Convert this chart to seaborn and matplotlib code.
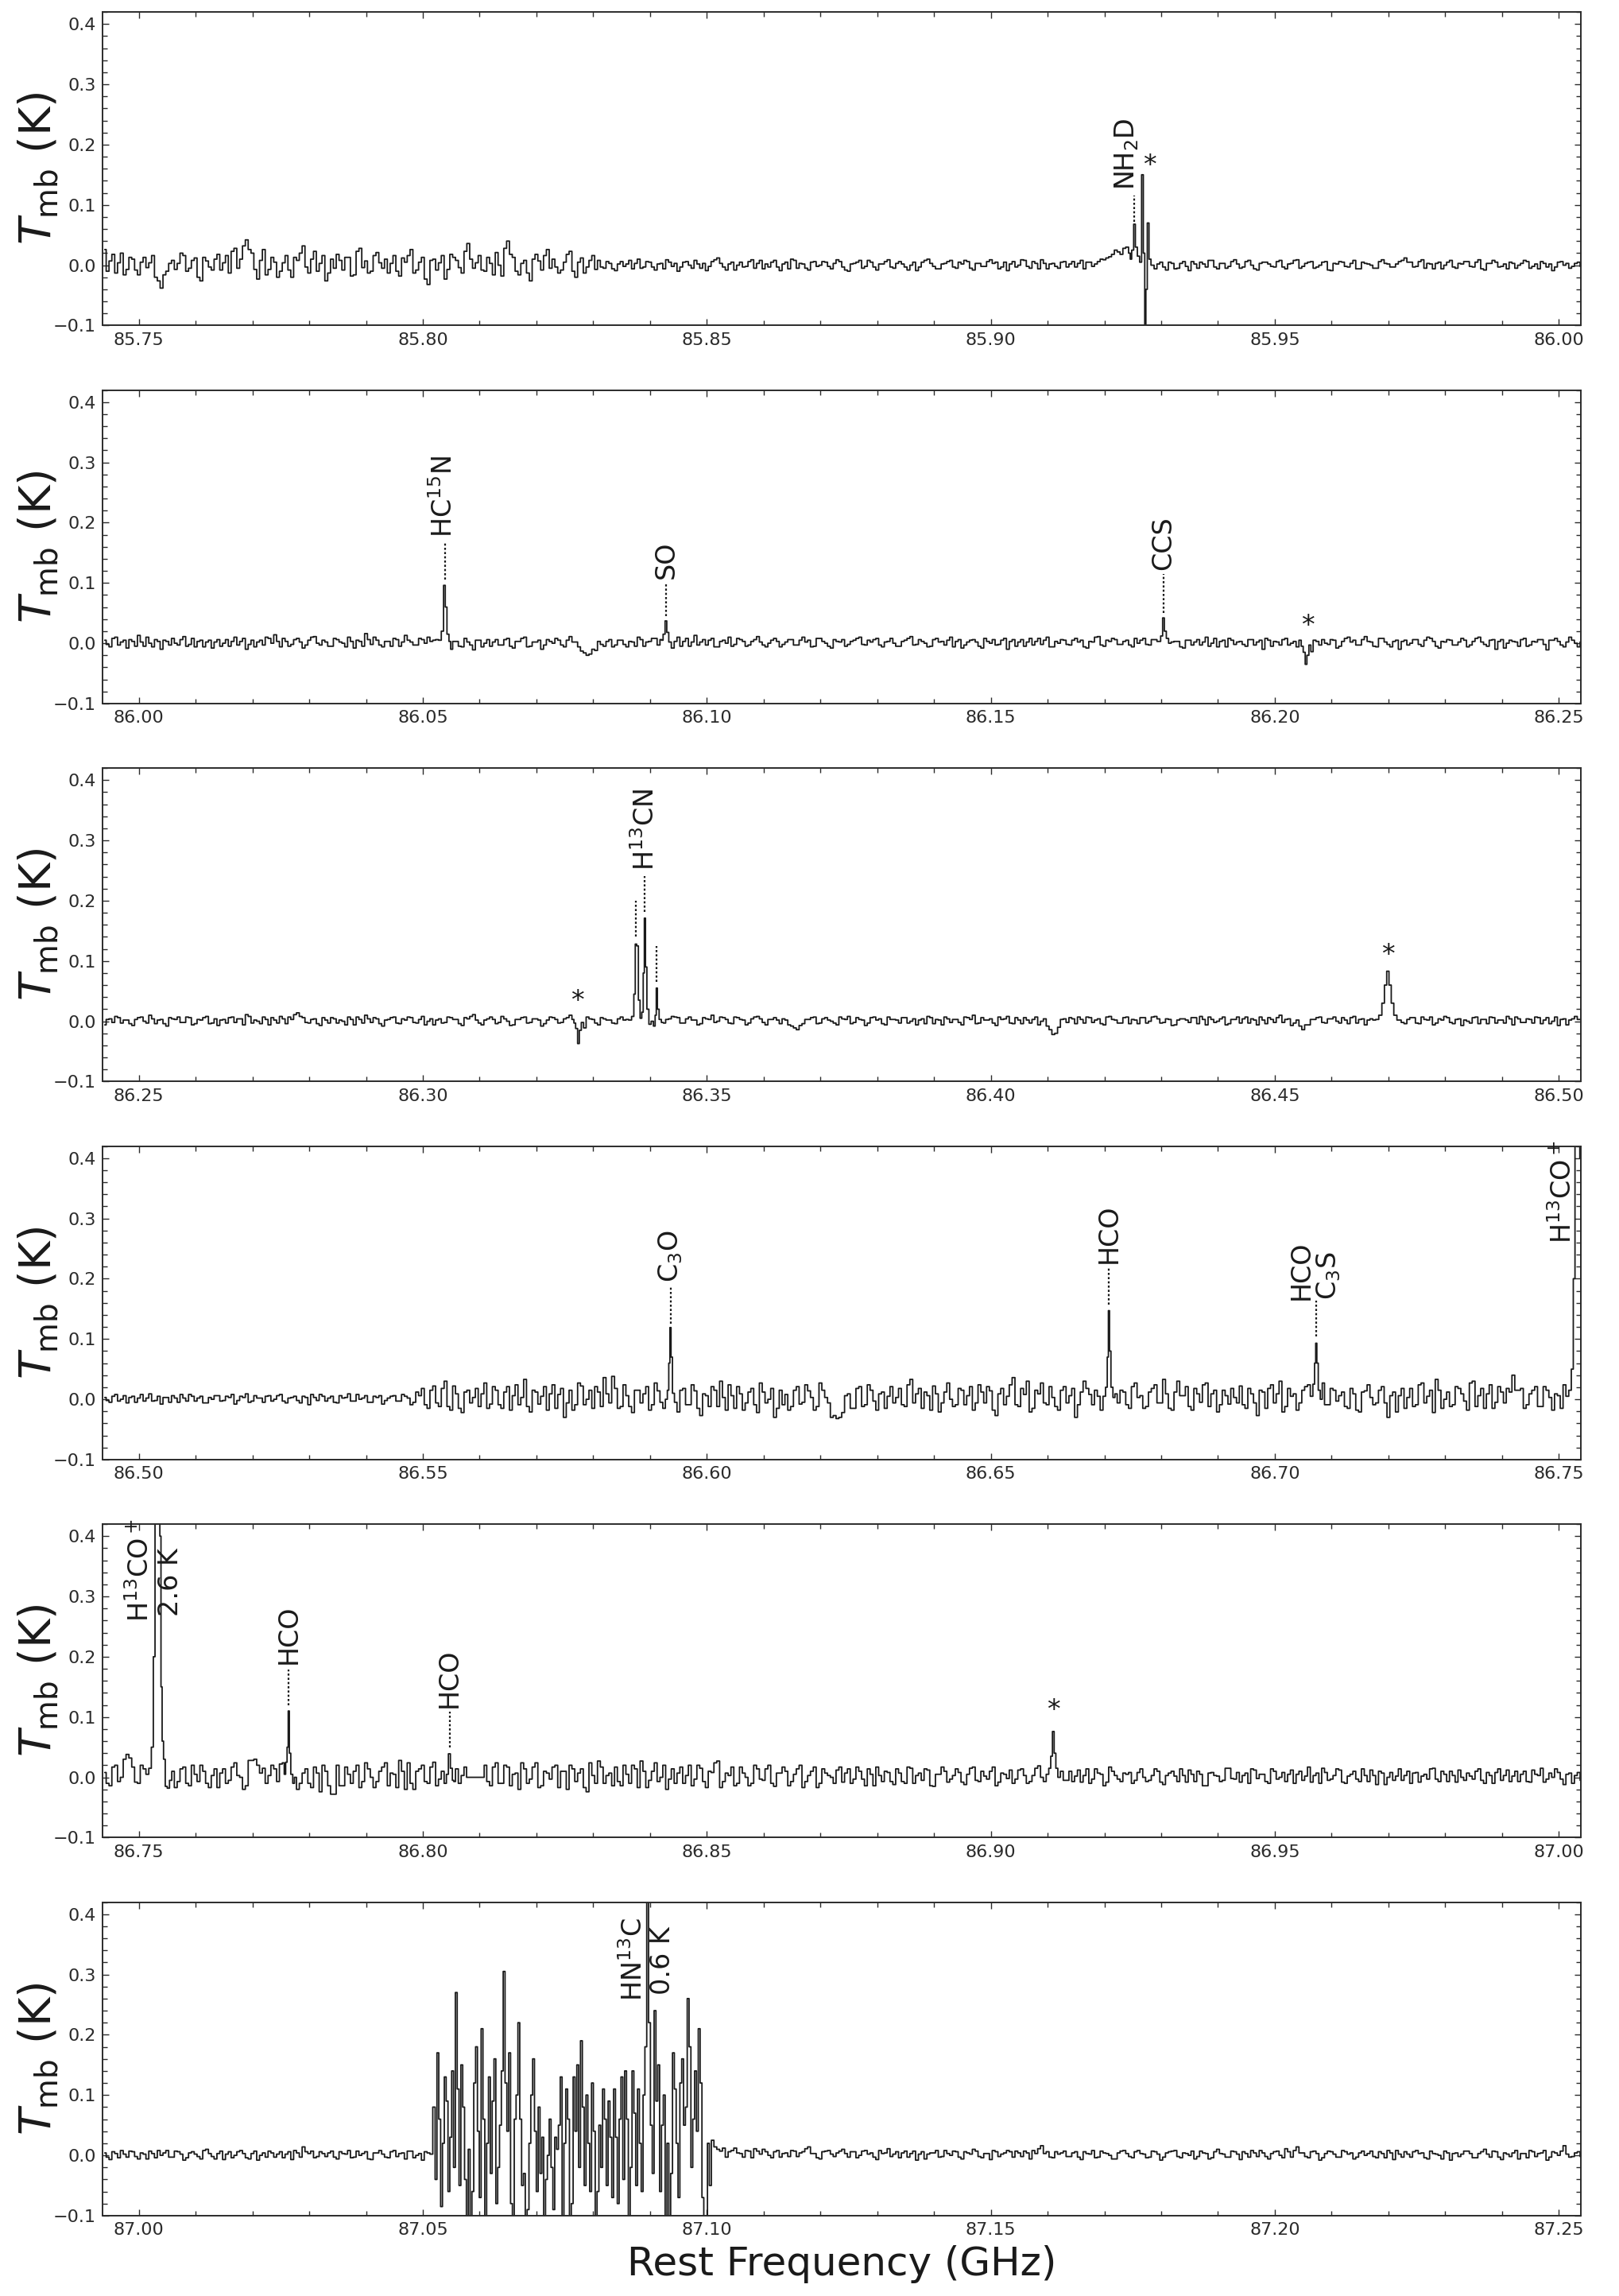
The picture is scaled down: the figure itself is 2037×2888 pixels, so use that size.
import numpy as np
import matplotlib
matplotlib.use("Agg")
import matplotlib.pyplot as plt
import seaborn as sns
from matplotlib.ticker import MultipleLocator, FormatStrFormatter

# ---------------- data (frequencies in GHz, temperatures in mK) ----------------
panel_starts = [85.75, 86.00, 86.25, 86.50, 86.75, 87.00]   # first labelled tick of each panel
grid_step = 0.001          # baseline channels: "a" lists on the grid, "b" lists half a step later

noise_p1a = [26, 7, -13, 20, -7, 10, -16, 13, 4, -20,
             -38, -10, 8, 3, 16, -5, 12, -26, 7, -8,
             18, 4, -13, 28, 10, 42, 20, -23, 26, -7,
             5, -10, 16, -20, 8, 32, -13, 23, 3, -26,
             10, 18, -8, 13, -16, 28, 7, -10, 21, -5,
             -13, 16, -18, 5, 26, -8, 13, -32, 10, 4,
             -23, 18, 8, -13, 36, -5, 16, -10, 3, 21,
             -18, 40, 13, -16, 8, -26, 18, -8, 26, 10,
             -13, 5, 23, -20, 12, -3, 16,
             8, -5, 3, -9, 6, 2, -6, 10, -3, 5,
             -8, 3, 9, -2, -10, 5, 0, 8, -5, -9,
             6, 12, -3, 2, -8, 5, -2, 9, 3, -6,
             -3, 8, -9, 5, 10, -5, 2, -8, 6, 0,
             5, -6, 9, -3, -10, 3, 8, -2, 5, -8,
             2, 9, -5, 6, -3, 0, -9, 5, 10, -2,
             -6, 3, 8, -5, 2, 6, -8, 3, -2, 9,
             5, -3, -9, 6, 0, 8, -5, 3, 9, -6,
             3, -5, 6, 2, -3, 8, 5, -2, 6, 9,
             14, 25, 18, 30, 20, 10, -5, 5, -6, 5,
             -8, 3, -5, 6, -9, 2, 5, -3, 8, -6,
             3, -2, 9, -5, 6, 0, -8, 5, 2, -3,
             8, -6, 3, 9, -2, 5, -5, 0, 6, -9,
             2, 5, -3, 8, -6, 3, 0, -5, 9, 2,
             -3, 6, 12, 5, -2, 9, 3, -6, 5, 0,
             8, -5, 2, 6, -3, 9, -8, 3, 5, -2,
             -6, 3, 0, 8, -5, 2, 6, -3, -9, 5,
             0, -5, 3, -2]
noise_p1b = [-10, 18, 4, -16, 13, -8, 5, -4, 16, -26,
             -16, 3, -7, 20, -10, 8, -20, 13, -3, 10,
             -8, 16, 23, -5, 32, 26, -7, 8, -16, 13,
             -20, 4, -8, 13, 20, -3, 10, -10, 16, -13,
             -5, 8, 13, -18, 23, -4, -13, 16, 4, 10,
             3, -10, 12, 16, -13, 5, -23, 8, -8, 16,
             -7, 13, -4, 23, 10, 4, -8, 13, -16, 0,
             28, 18, -10, 3, -13, 10, 7, 16, -5, -3,
             -8, 18, -10, 5, -13, 8, -7,
             -3, 6, -6, 2, -2, 8, 3, -5, 6, -3,
             2, -6, 5, 3, -3, 6, -5, 2, 3, -2,
             9, 3, -8, 5, 0, -3, 6, -5, 8, 2,
             5, -3, 2, -6, 8, 3, -5, 5, -2, 6,
             -2, 3, 6, -8, 2, 5, -5, 8, -3, 2,
             6, -3, 3, 2, -8, 5, -3, 8, 3, -6,
             2, 6, -3, 5, 8, -5, 3, -2, 6, 3,
             -6, 5, 2, -3, 9, -2, 6, -6, 3, 2,
             -2, 5, -3, 6, 3, -6, 5, 2, 10, 12,
             18, 22, 28, 20, 0, 0, 0, 0, 2, -3,
             5, -6, 3, -2, 6, -5, 2, 8, -3, 3,
             -5, 6, 2, -3, 8, -6, 3, 5, -2, 6,
             -3, 2, 8, -5, 3, 6, -3, 5, -8, 3,
             6, -2, 3, -6, 5, 2, -5, 6, 3, -3,
             2, 8, 5, -3, 6, -5, 2, 3, -6, 5,
             -3, 3, 6, -2, 5, -6, 3, 8, -3, 2,
             5, -5, 3, 6, -2, -6, 3, 2, -3, 6,
             3, -2, 5, 2]

noise_p2a = [5, -6, 10, 2, -8, 3, 13, -5, 0, 6,
             -10, 3, 8, -3, 11, -2, -6, 5, 2, -8,
             6, 0, -5, 10, 3, -10, 5, 2, -3, 8,
             14, -6, 3, -2, 8, -8, 5, 11, -3, 2,
             -5, 6, 0, 10, -8, 3, 16, -2, 5, -6,
             3, 8, -5, 13, 2, -3, 6, 10, 5, 8,
             11, -10, 3, -6, 2, -11, 5, 0, -5, 6,
             -3, 8, -8, 3, 10, -5, 2, -10, 6, 0,
             5, -6, 11, 2, -13, -20, -10, 3, -5, 6,
             -3, 5, -6, 2, 10, -5, 3, 8, 6, 13,
             -8, 10, 3, -5, 13, 2, -3, 8, -6, 5,
             10, -2, 6, -5, 3, 11, -3, 0, 8, -6,
             2, 6, -3, 10, 5, -5, 8, 0, -8, 3,
             6, -2, 5, 10, -3, 2, 8, -6, 3, 0,
             -5, 5, 11, -2, 3, -6, 6, 2, -3, 10,
             3, -8, 2, 6, -5, 8, 0, -3, 5, -10,
             6, 2, -5, 8, 3, -2, 10, -6, 0, 5,
             -3, 8, 5, -8, 2, 11, -5, 3, 6, -2,
             5, -6, 0, 8, -3, 6, 10, -5, 2, 3,
             -8, 5, 2, -3, 10, 0, -6, 5, 8, -2,
             3, -5, 6, 2, -10, 5, 3, -3, 8, 0,
             -6, 2, -13, 5, -3, 0, 6, -8, 3, 10,
             5, -3, 11, 2, -6, 8, -2, 3, -10, 5,
             0, 6, -5, 10, 3, -8, 2, 5, -3, 8,
             -6, 3, 10, -2, 5, -10, 6, 0, 3, -5,
             8, -3, 2, 6, -11, 5, 3, -6, 10, 0,
             2]
noise_p2b = [-2, 8, -3, 5, 6, -5, 2, 10, -6, 3,
             5, -3, 0, 6, -5, 8, 3, -6, 5, 2,
             -5, 6, 3, -3, 8, -2, -6, 5, 10, 0,
             3, 8, -5, 6, 2, -3, 10, 0, 5, -5,
             8, 2, -6, 3, 5, -5, 6, 10, -3, 3,
             -5, 6, 2, 5, -3, 8, 0, 3, 6, 10,
             13, 3, -5, 8, -3, 5, -6, 6, 2, -3,
             6, -5, 3, 8, -6, 2, 5, -3, 3, 8,
             -3, 5, 2, -6, -16, -18, -12, -2, 3, -6,
             5, -2, 3, -5, 6, 2, 8, -3, 5, 10,
             3, -5, 8, 2, -3, 6, 5, -6, 3, 0,
             -5, 8, 3, -3, 6, 2, -6, 5, 3, -2,
             6, -3, 5, 2, -6, 8, 3, -5, 6, 2,
             -5, 3, 8, -2, 5, 6, -3, 2, 8, -5,
             3, 8, -3, 6, 0, -5, 8, 3, 5, -6,
             6, -3, 5, 2, -8, 3, 6, -2, 8, 3,
             -5, 6, 2, -3, 8, 5, -6, 3, 6, -2,
             5, 2, -6, 3, 10, -3, 5, 8, -2, 3,
             -3, 8, 5, -2, 6, 3, -5, 8, 3, -6,
             5, -3, 6, 2, -5, 8, 3, -6, 5, 2,
             -2, 6, -3, 5, 8, -5, 2, 6, -3, 3,
             5, -5, -14, 3, 6, -2, 5, -5, 8, 2,
             -3, 6, 3, -5, 8, 2, -6, 5, 3, -3,
             6, -2, 5, 8, -5, 3, 6, -3, 2, 5,
             -3, 8, 2, -5, 6, 3, -8, 5, 2, 6,
             -5, 3, 6, -2, 5, 8, -3, 2, 5, -6,
             3]

noise_p3a = [-6, 4, 8, -3, 2, -7, 6, 0, 10, -4,
             3, -8, 4, 7, -2, 6, -4, 2, 8, -3,
             -7, 3, 6, -2, 4, 11, -3, 0, 7, -6,
             2, 8, -4, 3, 14, 6, -3, 4, -7, 2,
             6, -3, 0, 7, -6, 3, 10, -2, 4, -8,
             3, 7, -4, 2, 6, -3, 8, 0, -6, 4,
             -2, 6, 3, -7, 4, 11, -3, 2, 7, -4,
             8, 0, -6, 3, 7, -2, 4, -8, 2, 6,
             -3, 4, 10, -4, 0, 7, 3, -6, 4, 2,
             -4, 7, 3, 6, -2, 8, 4, 12, 7, 3,
             8, 6, -3, 7, 2, -4, 4, 10, 0, 6,
             -3, 7, 3, -6, 4, 8, -2, 3, 6, -4,
             2, -8, -14, -4, 3, 7, -3, 6, 0, -6,
             4, 8, -2, 3, -7, 6, 2, -4, 7, 3,
             -3, 6, 0, -6, 4, 8, -4, 2, 7, -2,
             3, -6, 6, 10, -3, 2, 4, -7, 3, 8,
             -4, 2, 6, -3, 7, 0, -8, -22, -10, 4,
             6, -4, 3, 7, -2, 4, -6, 8, 2, -3,
             7, 3, -4, 6, 0, 8, -3, 4, -7, 2,
             4, -2, 6, 8, -6, 3, 0, 7, -4, 3,
             -3, 7, 4, -6, 2, 6, -2, 10, 3, -7,
             2, -14, -6, 3, 7, -3, 4, 0, 6, -4,
             8, 3, -6, 4, 0, 0, 0, 0, 2, -4,
             6, -3, 7, 2, -6, 4, 8, -2, 3, -7,
             0, 6, -4, 3, 7, -3, 2, 8, -6, 4,
             -2, 3, 7, -4, 6, 0, -7, 4, 2, 8,
             3]
noise_p3b = [3, -2, 6, 2, -4, 3, 7, -3, 4, 2,
             -4, 6, 3, -2, 7, -6, 3, 6, -4, 4,
             2, -3, 7, 4, -6, 8, 2, -4, 3, 6,
             -3, 4, 7, 11, 8, -2, 3, -4, 6, -3,
             4, 2, -6, 3, 7, -3, 4, 6, -4, 2,
             6, -3, 4, 7, -2, 3, -6, 4, 2, -3,
             7, 3, -4, 6, 8, 2, -6, 4, 3, -2,
             4, -7, 3, 6, -3, 4, 2, -4, 7, 3,
             -2, 6, 3, -8, -11, 4, -3, 6, 2, -3,
             4, 2, 0, 0, 0, 0, 0, 0, -3, 4,
             7, -3, 4, 2, -6, 6, 3, -2, 7, 3,
             -4, 6, 2, -3, 7, 4, -6, 3, 2, 4,
             -6, -11, -7, 3, 6, -4, 4, 2, -3, 7,
             3, -4, 6, 2, -3, 7, 4, -6, 3, 2,
             6, -3, 4, 2, -4, 6, 3, -6, 4, 3,
             -2, 7, 3, -4, 6, 2, -3, 7, 4, -3,
             6, -4, 2, 3, -6, 4, -14, -20, 3, -2,
             4, 7, -3, 6, 2, -4, 7, 3, -3, 6,
             -4, 2, 6, -3, 7, 4, -2, 3, -6, 4,
             2, 6, -4, 3, 7, -2, 4, -6, 3, 7,
             4, -3, 2, 7, -4, 3, 6, -2, 4, -3,
             -8, -6, 3, 6, -2, 4, 7, -3, 2, 6,
             -3, 4, 2, 2, 0, 0, 0, 0, -2, 3,
             6, -4, 3, 7, -3, 2, 6, -4, 4, 2,
             -3, 7, 3, -4, 6, 2, -3, 4, 7, -2,
             4, -3, 6, 2, -4, 7, 3, -6, 4, 3,
             -2]

noise_p4a = [3, -5, 8, 0, -6, 5, 2, -3, 9, -2,
             -8, 3, 6, -5, 2, 8, -3, 5, -6, 0,
             6, -2, 3, -8, 5, 9, -3, 2, -5, 6,
             0, 8, -6, 3, -2, 5, -9, 3, 8, -3,
             5, -6, 2, 9, -3, 0, 6, -5, 3, -8,
             2, 6, -3, 5, -9, 12, 18, -15, 22, -12,
             30, -18, 9, -22, 15, 3, -12, 27, -8, 15,
             -15, 21, 6, -9, 33, -21, 12, 5, -18, 24,
             8, -30, 15, -9, 22, 0, -15, 12, 36, -6,
             18, -12, 6, -22, 15, 9, -18, 27, -5, 10,
             0, -21, 18, -9, 14, -27, 6, 21, -12, 3,
             24, -15, 9, -6, 18, -22, 12, 0, -30, 15,
             8, -12, 21, -5, 14, -18, 27, 3, -30, -32,
             -22, 9, -15, 21, -9, 15, -18, 12, 5, -6,
             18, -12, 33, 9, -15, 6, 22, -21, 12, 0,
             -9, 15, 6, -18, 24, -6, 14, -27, 18, 5,
             36, -12, 8, -21, 15, 27, -9, 3, -18, 21,
             6, -30, 12, 18, -9, 5, 0, 0, 9, 15,
             -9, 21, 3, -15, 12, 24, -6, 9, -18, 30,
             6, -12, 18, -5, 27, 9, -21, 15, -8, 3,
             22, -15, 9, -27, 12, 18, -6, 30, -12, 5,
             -18, 15, 24, 0, 0, -9, 18, -3, 12, -15,
             9, -21, 14, 3, -6, 21, -30, 12, 6, -15,
             18, -9, 27, 5, -22, 15, 0, -12, 21, 9,
             -18, 30, 6, -15, 24, -5, 12, 18, 40, 15,
             -15, 9, 21, -12, 15, -18, 6, 24, 0, 0,
             0]
noise_p4b = [-2, 5, -3, 6, 3, -5, 8, 2, -3, 5,
             3, -5, 2, 8, -3, 5, 2, -6, 3, 6,
             -3, 5, 8, -2, 3, -5, 6, 2, 5, -3,
             6, -3, 2, 5, -6, 3, 8, -2, 5, 2,
             -5, 6, 3, -3, 8, 2, -5, 5, 6, -2,
             5, -3, 8, 2, -5, 6, -9, 15, -6, 18,
             -12, 22, -15, 12, -6, 18, 9, -15, 21, -9,
             12, -18, 24, 3, -12, 15, -8, 21, 9, -15,
             18, -6, -18, 27, -9, 15, 21, -12, 9, 38,
             -15, 24, -12, 15, -6, 21, -9, 14, -15, 0,
             0, 15, -9, 24, -15, 9, -12, 15, 30, -18,
             6, 21, -18, 12, -9, 27, -6, 18, -15, -9,
             -18, 15, -8, 24, 3, -12, 15, -6, -27, -30,
             6, -15, 18, -12, 24, -3, 9, -15, 21, 3,
             -9, 24, -6, 18, 12, -18, 9, -6, 27, -12,
             18, -9, 21, -6, 12, 21, -18, 9, -9, 24,
             -9, 18, 30, -15, 9, -6, 21, -12, 15, -6,
             18, -9, 30, 8, 15, -18, 0, 0, -6, 12,
             -15, 27, 6, -12, 18, -6, 33, -15, 12, 6,
             21, -18, 9, 24, -12, 15, -9, 6, 18, -6,
             -9, 18, -6, 15, -15, 24, 9, -21, 18, 9,
             -6, 21, 0, 0, 27, -9, 15, 6, -12, 18,
             -18, 12, 24, -9, 15, -6, 6, -21, 18, 3,
             -12, 24, -6, 15, 33, -15, 12, -9, 18, -3,
             27, -12, 18, 9, -15, 21, -6, 12, 15, 18,
             -9, 15, -12, 21, 3, 9, -15, 0, 0, 0,
             0]

noise_p5a = [8, -14, 20, 0, 38, 17, -10, 14, 0, 0,
             0, 0, 10, -7, 17, -14, 5, 20, -10, 3,
             -17, 14, -5, 24, 0, -14, 28, 20, 15, 3,
             14, 22, 0, 0, -20, 7, -10, 17, -24, 10,
             -28, 20, -14, 5, 10, -17, 24, 0, -7, 17,
             -14, 5, 28, -20, -10, 10, 20, -10, 25, -3,
             0, 0, 14, 3, 0, 0, 0, 20, -14, 24,
             -10, 17, 5, -20, 14, -3, 24, -14, 7, 17,
             -17, 10, 20, -7, 14, -24, 3, 27, -10, 7,
             17, -14, 5, 20, -17, 10, -5, 24, 0, -20,
             14, 7, -10, 20, -3, 15, -17, 8, 27, -7,
             3, -14, 17, 0, -10, 14, -5, 20, -15, 7,
             10, -7, 14, -17, 3, 17, -10, 7, 0, 12,
             -8, 14, -3, 10, -14, 5, 17, -7, 8, -12,
             7, -10, 15, 3, -5, 12, -15, 5, 10, -3,
             14, -8, 5, 17, -7, 2, 10, -14, 7, -2,
             -10, 12, 3, -7, 15, 0, 0, 0, 0, -5,
             10, 2, -8, 14, -3, 7, -14, 17, 3, -7,
             5, -10, 8, 0, -5, 14, -8, 3, 10, -7,
             3, 12, -7, 5, -14, 8, 2, -5, 15, -3,
             -8, 7, 14, -2, 5, -10, 10, 0, -7, 12,
             5, -5, 17, 3, -10, 8, -3, 14, -8, 2,
             10, -7, 3, 12, -12, 7, 0, -5, 14, 3,
             -10, 8, 2, -3, 15, -7, 5, 10, -8, 0,
             7, -3, 14, -10, 3, 8, -5, 12, 2, -7,
             10, -8, 5, 15, -3, 0, 8, -12, 7, 3,
             -5]
noise_p5b = [-10, 17, -7, 30, 32, -8, 20, -14, 0, 0,
             0, 0, -17, 14, -10, 20, -7, 10, -17, 14,
             7, -10, 17, 3, -20, 28, 30, 7, -10, 20,
             -7, 24, 17, 0, -10, 14, -17, 7, 20, -14,
             -28, -14, 17, -10, 20, -7, 14, -17, 10, 24,
             7, -17, 10, 24, -20, 14, -7, 17, -14, 10,
             0, -7, -10, 17, 0, 0, 0, -7, 17, -10,
             20, -14, 7, 24, -10, 17, -17, 10, -3, 20,
             10, -20, 14, 7, -17, 24, -10, 17, 3, -14,
             -7, 20, -10, 14, 27, -17, 10, -7, 20, -3,
             -10, 17, 3, -14, 20, -7, 10, 24, -17, 7,
             17, -10, 7, -14, 20, -3, 14, -10, 7, 17,
             -14, 5, 20, -7, 10, -17, 14, 3, -10, 17,
             7, -10, 17, -3, 14, -14, 3, 10, -7, 14,
             -7, 17, -10, 7, 14, -14, 5, 17, -8, 3,
             8, -12, 15, -5, 10, -3, 17, -8, 5, 12,
             -3, 14, -10, 3, 19, -7, 0, 0, 10, -5,
             -7, 12, 3, -10, 14, 5, -8, 10, -3, 7,
             8, -5, 14, -7, 3, 10, -12, 7, 2, 14,
             -8, 5, 10, -14, 7, 3, -7, 15, -2, 8,
             3, -10, 12, 5, -7, 14, -3, 8, 5, -10,
             10, 2, -8, 7, 15, -5, 3, 12, -10, 5,
             -3, 14, -7, 3, 10, -12, 8, 2, -5, 10,
             7, -8, 5, 14, -3, 10, -7, 3, 12, -5,
             2, 10, -5, 8, -10, 14, 3, -7, 10, 5,
             -7, 12, 3, -8, 7, 14, -3, 5, -10, 8,
             0]

noise_p6a = [4, -7, 3, 8, -3, 6, -6, 2, 7, -4,
             0, 8, -3, 6, -8, 4, 2, -6, 10, -2,
             3, -7, 6, 0, 8, -4, 3, -8, 4, 7,
             -3, 6, 2, -7, 4, 14, 3, -4, 6, -2,
             7, -6, 3, 8, -3, 0, 6, -7, 4, 2,
             -4, 8, 3, -6, 7, 0, -8, 4, 10, -3,
             0, 0, 0, 0, 0, 0, 0, 0, 0, 0,
             0, 0, 0, 0, 0, 0, 0, 0, 0, 0,
             0, 0, 0, 0, 0, 0, 0, 0, 0, 0,
             0, 0, 0, 0, 0, 0, 0, 0, 0, 0,
             0, 0, 0, 0, 0, 0, 0, 25, 10, 12,
             6, 12, 3, 8, -4, 7, 10, 0, 6, -3,
             4, 8, -2, 6, 14, 3, -6, 7, 2, 4,
             10, -3, 6, 0, 8, 4, -7, 3, 11, 2,
             -4, 7, 3, -8, 6, 2, 4, -3, 8, 0,
             6, -6, 4, 10, -2, 3, -7, 6, 2, 8,
             -3, 4, 7, -6, 3, 16, 6, -4, 2, 7,
             -2, 6, -7, 3, 8, -3, 4, 0, -6, 7,
             3, -4, 8, 2, -3, 6, -8, 4, 7, -2,
             4, 0, -6, 7, 3, -4, 10, 2, -3, 6,
             -7, 3, 8, -2, 4, -6, 6, 0, 11, -3,
             14, 4, -4, 7, -8, 3, 6, -3, 8, 2,
             -6, 4, 0, 7, -4, 3, 8, -7, 2, 6,
             -3, 8, 4, -6, 3, 0, 7, -8, 4, 2,
             7, -4, 3, 10, -3, 6, -7, 2, 4, -6,
             3, 8, -2, 4, -8, 6, 0, 16, -3, 4,
             -2]
noise_p6b = [-3, 6, -4, 2, 7, -2, 4, -6, 3, 8,
             4, -3, 7, 2, -4, 6, -2, 8, 3, -6,
             7, 2, -4, 6, 3, -6, 7, 0, -3, 4,
             2, -4, 6, 8, -3, 6, 7, -2, 3, 4,
             -3, 6, 2, -4, 7, 3, -6, 4, 8, -3,
             6, -2, 4, 7, -4, 3, 6, 2, 0, 0,
             0, 0, 0, 0, 0, 0, 0, 0, 0, 0,
             0, 0, 0, 0, 0, 0, 0, 0, 0, 0,
             0, 0, 0, 0, 0, 0, 0, 0, 0, 0,
             0, 0, 0, 0, 0, 0, 0, 0, 0, 0,
             0, 0, 0, 0, 0, 0, 0, 14, 7, -3,
             8, 4, -3, 7, 11, 2, 6, -4, 8, 3,
             -2, 7, 4, 11, 3, -4, 6, 8, -2, 7,
             3, 6, -4, 7, 2, -3, 8, 4, -2, 6,
             4, -3, 7, 2, -6, 4, 8, -2, 3, 7,
             -3, 6, 2, 7, -4, 3, 8, -2, 4, 6,
             7, -2, 4, 8, 11, 3, -3, 6, 4, -2,
             4, -3, 6, 2, -4, 7, 3, -6, 4, 8,
             -2, 6, 3, -4, 7, 2, -3, 6, 8, -4,
             3, 7, -2, 4, -6, 6, 3, -3, 7, 2,
             6, -3, 4, 8, -2, 3, 7, -4, 6, 8,
             4, -2, 6, 3, -4, 7, 2, -3, 6, 4,
             -3, 7, 3, -2, 6, -4, 4, 8, -3, 2,
             6, 3, -4, 7, 2, -6, 4, 3, -2, 7,
             3, -4, 6, 2, 7, -3, 4, -2, 8, 3,
             -4, 6, 3, 8, -3, 4, 7, 2, -2, 6,
             3]

# line features (frequency GHz, T_mb mK)
nh2d_f = [85.9246, 85.9250, 85.9253, 85.9256, 85.9260, 85.9264, 85.9267,
          85.9270, 85.9272, 85.9274, 85.9277, 85.9280, 85.9284]
nh2d_t = [10, 25, 68, 30, 15, 5, 150, 20, -300, -40, 70, 10, 0]
hc15n_f = [86.0530, 86.0535, 86.0538, 86.0541, 86.0544, 86.0548]
hc15n_t = [5, 20, 96, 60, 15, 3]
so_f = [86.0921, 86.0925, 86.0928, 86.0931, 86.0935]
so_t = [5, 15, 37, 18, 2]
ccs_f = [86.1797, 86.1801, 86.1804, 86.1807, 86.1811, 86.1815]
ccs_t = [3, 12, 42, 20, 8, 0]
u1_f = [86.2048, 86.2052, 86.2055, 86.2058, 86.2062]
u1_t = [-5, -15, -35, -20, -3]
u2_f = [86.3267, 86.3271, 86.3274, 86.3277, 86.3281]
u2_t = [-3, -12, -37, -15, -2]
h13cn_f = [86.3365, 86.3370, 86.3373, 86.3375, 86.3378, 86.3381, 86.3384,
           86.3387, 86.3389, 86.3391, 86.3393, 86.3396, 86.3400, 86.3404,
           86.3408, 86.3410, 86.3412, 86.3414, 86.3418, 86.3422]
h13cn_t = [2, 8, 45, 128, 125, 35, 5, 15, 80, 171, 90, 20, -5, 0, -8, 10, 55, 20, 3, -2]
u3_f = [86.4680, 86.4686, 86.4691, 86.4695, 86.4699, 86.4703, 86.4707, 86.4712, 86.4718]
u3_t = [3, 10, 30, 60, 83, 60, 30, 10, 2]
c3o_f = [86.5929, 86.5932, 86.5934, 86.5936, 86.5938, 86.5941, 86.5945]
c3o_t = [0, 15, 60, 119, 70, 10, -5]
hco1_f = [86.6700, 86.6704, 86.6706, 86.6708, 86.6710, 86.6713, 86.6717]
hco1_t = [5, 20, 70, 147, 80, 20, 3]
hco2_f = [86.7065, 86.7069, 86.7071, 86.7073, 86.7075, 86.7078, 86.7082]
hco2_t = [5, 25, 60, 93, 60, 15, 0]
h13cop_f = [86.7515, 86.7520, 86.7524, 86.7527, 86.7530, 86.7533, 86.7536,
            86.7538, 86.7540, 86.7542, 86.7545, 86.7548, 86.7552, 86.7556]
h13cop_t = [5, 15, 50, 200, 800, 2600, 1500, 400, 150, 60, 30, -15, -18, -5]
hco3_f = [86.7757, 86.7760, 86.7762, 86.7764, 86.7766, 86.7769, 86.7773]
hco3_t = [5, 25, 50, 110, 40, 5, -10]
hco4_f = [86.8040, 86.8043, 86.8047, 86.8050, 86.8054]
hco4_t = [-10, 5, 39, 15, -5]
gap_f = [86.8079, 86.8106]
gap_t = [0, 0]
u4_f = [86.9100, 86.9104, 86.9107, 86.9110, 86.9113, 86.9116, 86.9120]
u4_t = [5, 15, 35, 76, 40, 15, 0]
band_range = (87.0520, 87.1006)     # strongly perturbed channels around HN13C (evenly spaced)
band_t = [80, -40, 170, 60, -85, 20, 130, 90, -60, 30,
          140, -20, 270, 110, -50, 150, 80, -40, -160, 10,
          -120, -60, 120, 180, 40, -70, 210, 60, -100, 20,
          130, -30, 90, 160, -80, -20, 50, 140, 305, 120,
          40, 170, -80, -120, 60, 100, 220, 60, -50, -30,
          -150, -90, 20, 100, 160, 40, -60, 80, -30, 30,
          -100, -40, 0, 60, -20, -90, 30, 10, 50, 130,
          -100, 20, 110, 60, -150, -80, 130, 40, 150, -20,
          190, 80, -50, 100, 20, -60, 120, 40, -120, -60,
          50, -20, 110, 60, -50, 90, 30, -70, 110, 30,
          -80, 60, 130, -40, 140, 60, -100, -20, 140, 70,
          -50, 110, 20, -60, 100, 180, 650, 220, 50, -30,
          240, 90, 150, -60, 50, 100, -100, 20, -120, -30,
          170, 110, 20, -70, 120, 160, 50, 80, 260, 180,
          -20, 60, 140, 40, 210, 120, -70, -200, -150, 20,
          -50]

# annotations: (panel, freq, T_bottom K, text)
labels = [(0, 85.9240, 0.125, r"NH$_2$D"),
          (1, 86.0537, 0.175, r"HC$^{15}$N"), (1, 86.0928, 0.107, "SO"),
          (1, 86.1804, 0.122, "CCS"),
          (2, 86.3393, 0.250, r"H$^{13}$CN"),
          (3, 86.5936, 0.194, r"C$_3$O"), (3, 86.6708, 0.225, "HCO"),
          (3, 86.7047, 0.165, "HCO"), (3, 86.7095, 0.165, r"C$_3$S"),
          (3, 86.7507, 0.258, r"H$^{13}$CO$^+$"),
          (4, 86.7503, 0.258, r"H$^{13}$CO$^+$"), (4, 86.7556, 0.267, "2.6 K"),
          (4, 86.7764, 0.188, "HCO"), (4, 86.8047, 0.115, "HCO"),
          (5, 87.0871, 0.256, r"HN$^{13}$C"), (5, 87.0922, 0.267, "0.6 K")]
dotted = [(0, 85.9253, 0.072, 0.115),
          (1, 86.0539, 0.105, 0.167), (1, 86.0928, 0.045, 0.099), (1, 86.1804, 0.050, 0.115),
          (2, 86.3375, 0.141, 0.200), (2, 86.3391, 0.182, 0.241), (2, 86.3412, 0.066, 0.125),
          (3, 86.5936, 0.126, 0.188), (3, 86.6708, 0.157, 0.218), (3, 86.7073, 0.104, 0.163),
          (4, 86.7764, 0.120, 0.179), (4, 86.8047, 0.050, 0.109)]
stars = [(0, 85.9280, 0.165), (1, 86.2058, 0.029), (2, 86.3272, 0.033),
         (2, 86.4699, 0.110), (4, 86.9110, 0.111)]

features = [(nh2d_f, nh2d_t), (hc15n_f, hc15n_t), (so_f, so_t), (ccs_f, ccs_t),
            (u1_f, u1_t), (u2_f, u2_t), (h13cn_f, h13cn_t), (u3_f, u3_t),
            (c3o_f, c3o_t), (hco1_f, hco1_t), (hco2_f, hco2_t),
            (h13cop_f, h13cop_t), (hco3_f, hco3_t), (hco4_f, hco4_t),
            (gap_f, gap_t), (u4_f, u4_t),
            (np.linspace(band_range[0], band_range[1], len(band_t)), band_t)]
noise_a = [noise_p1a, noise_p2a, noise_p3a, noise_p4a, noise_p5a, noise_p6a]
noise_b = [noise_p1b, noise_p2b, noise_p3b, noise_p4b, noise_p5b, noise_p6b]


def panel_spectrum(k):
    start = panel_starts[k]
    lo, hi = start - 0.0064, start + 0.2539
    fa = start - 0.006 + grid_step * np.arange(len(noise_a[k]))
    fb = fa + grid_step / 2
    f = np.concatenate([fa, fb])
    t = np.concatenate([noise_a[k], noise_b[k]]).astype(float) / 1000.0
    keep = np.ones(len(f), bool)
    fs, ts = [], []
    for ff, tt in features:
        ff = np.asarray(ff, float)
        if ff.max() < lo - 0.002 or ff.min() > hi + 0.002:
            continue
        keep &= ~((f >= ff.min() - 1e-7) & (f <= ff.max() + 1e-7))
        fs.append(ff)
        ts.append(np.asarray(tt, float) / 1000.0)
    fall = np.concatenate([f[keep]] + fs)
    tall = np.concatenate([t[keep]] + ts)
    order = np.argsort(fall)
    return fall[order], tall[order], (lo, hi)


# ---------------- plotting ----------------
sns.set_theme(style="ticks")
plt.rcParams["font.family"] = ["DejaVu Sans"]
plt.rcParams["mathtext.fontset"] = "dejavusans"

fig, axes = plt.subplots(6, 1, figsize=(20.37, 28.88), dpi=100)
fig.subplots_adjust(left=0.0633, right=0.9765, top=0.9948, bottom=0.035, hspace=0.2056)

dark = "#2b2b2b"
ink = "#1a1a1a"
for k, ax in enumerate(axes):
    fx, ty, (lo, hi) = panel_spectrum(k)
    sns.lineplot(x=fx, y=ty, ax=ax, color=ink, lw=1.3,
                 estimator=None, sort=False, drawstyle="steps-mid")
    ax.set_xlim(lo, hi)
    ax.set_ylim(-0.1, 0.42)
    ax.xaxis.set_major_locator(MultipleLocator(0.05))
    ax.xaxis.set_minor_locator(MultipleLocator(0.01))
    ax.xaxis.set_major_formatter(FormatStrFormatter("%.2f"))
    ax.yaxis.set_major_locator(MultipleLocator(0.1))
    ax.yaxis.set_minor_locator(MultipleLocator(0.02))
    ax.tick_params(which="both", direction="in", top=True, right=True,
                   color=dark, labelcolor=dark, labelsize=16, width=1.0)
    ax.tick_params(which="major", length=6, pad=6)
    ax.tick_params(which="minor", length=4)
    for s in ax.spines.values():
        s.set_color(dark)
        s.set_linewidth(1.4)
    ax.set_ylabel(r"$T_{\rm mb}$ (K)", fontsize=40, color=ink)
    ax.yaxis.set_label_coords(-0.028, 0.5)
    ax.set_xlabel("")

for k, f0, y0, y1 in dotted:
    axes[k].plot([f0, f0], [y0, y1], ls=(0, (1.2, 1.2)), color=ink, lw=1.6)
for k, f0, y0, s in labels:
    axes[k].text(f0, y0, s, rotation=90, ha="center", va="bottom",
                 fontsize=24, color=ink)
for k, f0, y0 in stars:
    axes[k].text(f0, y0, "*", ha="center", va="center", fontsize=24, color=ink)

fig.text(0.5 * (0.0633 + 0.9765), 0.0139, "Rest Frequency (GHz)",
         ha="center", va="center", fontsize=36, color=ink)

fig.savefig("out.png", dpi=100)
